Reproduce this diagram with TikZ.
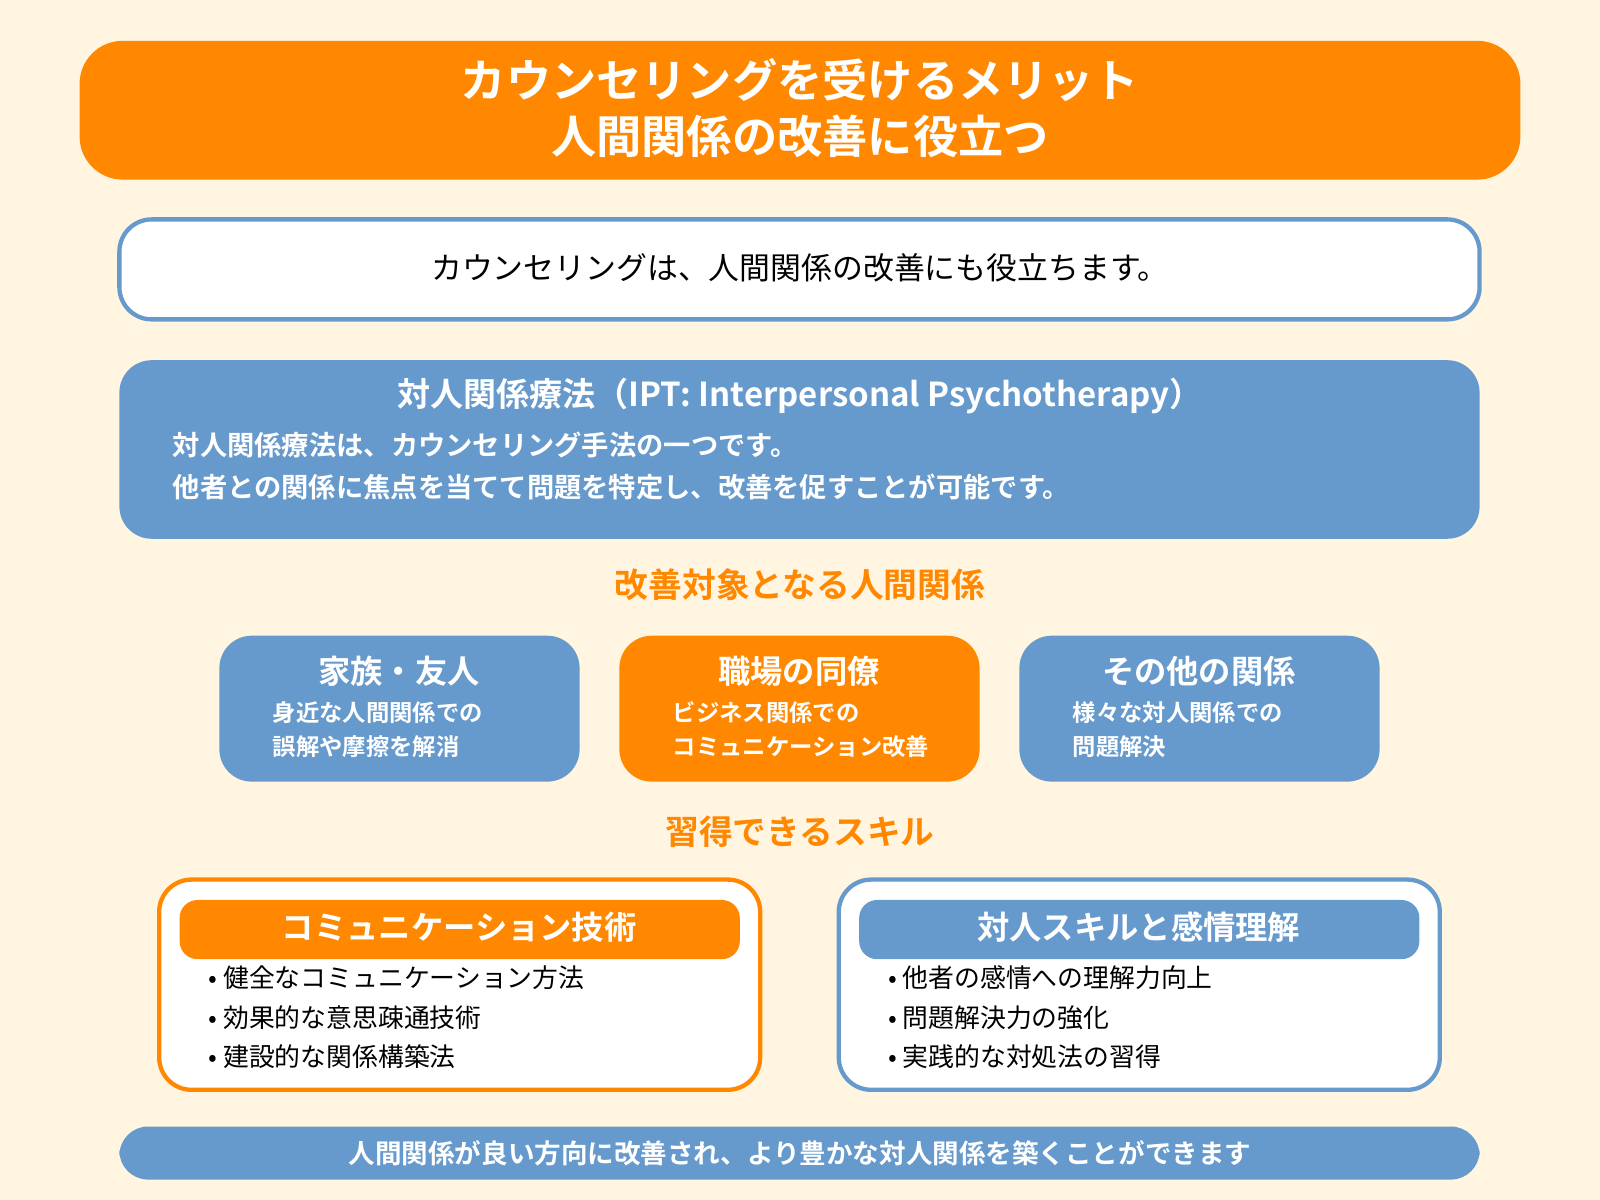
\documentclass[tikz,border=0pt]{standalone}
\usepackage{fontspec}
\setmainfont{Noto Sans CJK JP}
\newfontfamily\jpb{Noto Sans CJK JP Bold}
\definecolor{bg}{HTML}{FFF5E1}
\definecolor{org}{HTML}{FF8800}
\definecolor{blu}{HTML}{6699CC}
\newcommand{\fsz}[1]{\fontsize{#1}{#1}\selectfont}
\tikzset{
 box/.style={rounded corners=9pt},
 wt/.style={text=white,font=\jpb\fsz{8.4pt}},
}
\begin{document}
\begin{tikzpicture}[x=0.01cm,y=-0.01cm]
\fill[bg] (0,0) rectangle (1568,1176);
\useasboundingbox (0,0) rectangle (1568,1176);
% title
\fill[org,rounded corners=12pt] (78,40) rectangle (1490,176);
\node[text=white,font=\jpb\fsz{12.6pt},align=center] (title) at (784,106) {カウンセリングを受けるメリット\\[3pt]人間関係の改善に役立つ};
% intro
\draw[blu,line width=1.2pt,fill=white,box] (117,215) rectangle (1450,313);
\node[font=\fsz{8.6pt}] (intro) at (784,262) {カウンセリングは、人間関係の改善にも役立ちます。};
% IPT
\fill[blu,box] (117,353) rectangle (1450,528);
\node[wt,font=\jpb\fsz{9.2pt}] (ipt) at (784,388) {対人関係療法（IPT: Interpersonal Psychotherapy）};
\node[text=white,font=\jpb\fsz{7.6pt},anchor=west,align=left] (iptb) at (157,457) {対人関係療法は、カウンセリング手法の一つです。\\[4pt]他者との関係に焦点を当てて問題を特定し、改善を促すことが可能です。};
% heading
\node[text=org,font=\jpb\fsz{9.4pt}] (h1) at (784,573) {改善対象となる人間関係};
\foreach \x/\c/\t/\a/\b [count=\i] in {215/blu/家族・友人/身近な人間関係での/誤解や摩擦を解消,607/org/職場の同僚/ビジネス関係での/コミュニケーション改善,999/blu/その他の関係/様々な対人関係での/問題解決}{
 \fill[\c,box] (\x,623) rectangle (\x+353,766);
 \node[wt,font=\jpb\fsz{9pt}] (t\i) at (\x+176,658) {\t};
 \node[text=white,font=\jpb\fsz{6.5pt},anchor=west,align=left] (b\i) at (\x+40,715) {\a\\[3pt]\b};
}
\node[text=org,font=\jpb\fsz{9.4pt}] (h2) at (784,815) {習得できるスキル};
% skill boxes
\draw[org,line width=1.2pt,fill=white,box] (156,862) rectangle (745,1068);
\fill[org,rounded corners=5pt] (176,882) rectangle (725,940);
\node[wt,font=\jpb\fsz{9pt}] (s1) at (450,909) {コミュニケーション技術};
\draw[blu,line width=1.2pt,fill=white,box] (822,862) rectangle (1411,1068);
\fill[blu,rounded corners=5pt] (842,882) rectangle (1391,940);
\node[wt,font=\jpb\fsz{9pt}] (s2) at (1116,909) {対人スキルと感情理解};
\foreach \y/\t/\u in {958/健全なコミュニケーション方法/他者の感情への理解力向上,997/効果的な意思疎通技術/問題解決力の強化,1036/建設的な関係構築法/実践的な対処法の習得}{
 \node[font=\fsz{7.2pt},anchor=west] at (192,\y) {• \t};
 \node[font=\fsz{7.2pt},anchor=west] at (858,\y) {• \u};
}
% footer
\fill[blu,rounded corners=8pt] (117,1104) rectangle (1450,1156);
\node[text=white,font=\jpb\fsz{7.4pt}] (foot) at (784,1130) {人間関係が良い方向に改善され、より豊かな対人関係を築くことができます};
\end{tikzpicture}
\end{document}
